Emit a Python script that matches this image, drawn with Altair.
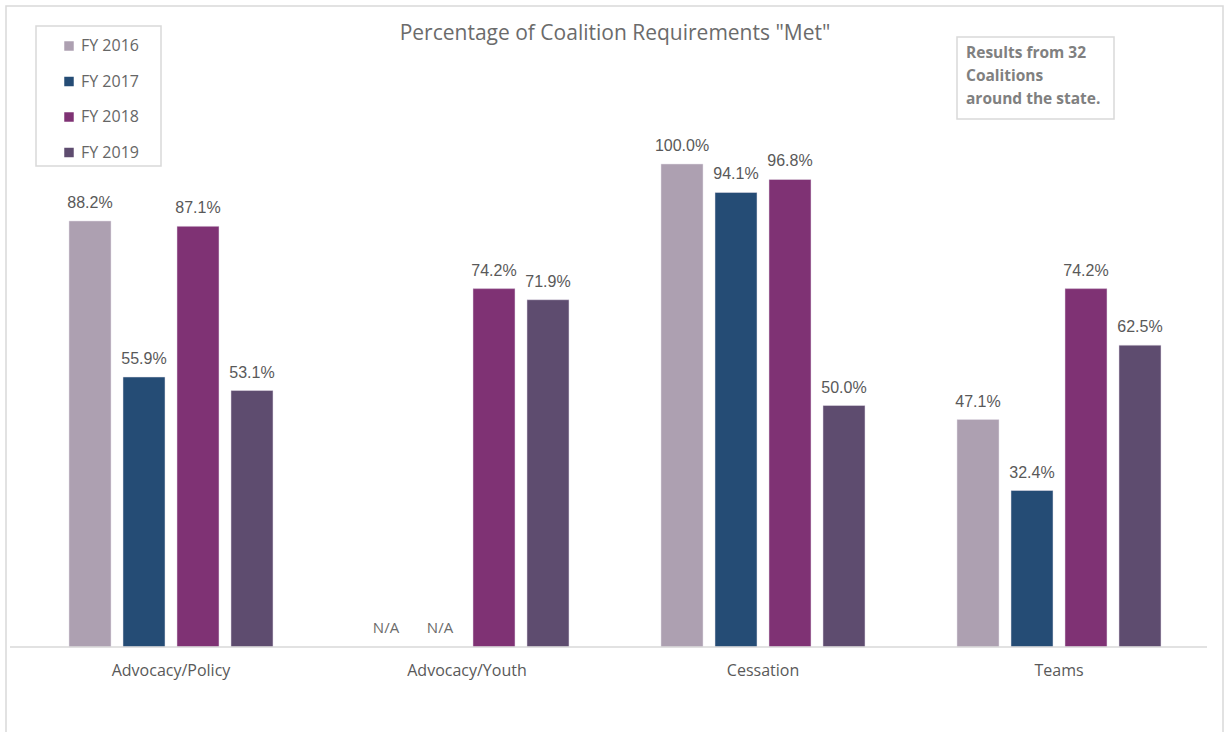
import altair as alt
import pandas as pd

categories = ["Advocacy/Policy", "Advocacy/Youth", "Cessation", "Teams"]
years = ["FY 2016", "FY 2017", "FY 2018", "FY 2019"]
colors = ["#ada0b1", "#254c75", "#7f3274", "#5e4c6f"]
values = {
    "FY 2016": [88.2, None, 100.0, 47.1],
    "FY 2017": [55.9, None, 94.1, 32.4],
    "FY 2018": [87.1, 74.2, 96.8, 74.2],
    "FY 2019": [53.1, 71.9, 50.0, 62.5],
}
title_text = 'Percentage of Coalition Requirements "Met"'
note_lines = ["Results from 32", "Coalitions", "around the state."]

rows = []
for y in years:
    for c, v in zip(categories, values[y]):
        rows.append({"category": c, "year": y, "value": v})
df = pd.DataFrame(rows)

W, H = 1184, 483

x_enc = alt.X("category:N", sort=categories, title=None,
              scale=alt.Scale(paddingInner=0, paddingOuter=0),
              axis=alt.Axis(domain=False, ticks=False, labelAngle=0,
                            labelFont="Open Sans", labelFontSize=16,
                            labelColor="#595959", labelPadding=15))
xo_enc = alt.XOffset("year:N", sort=years,
                     scale=alt.Scale(paddingInner=0.2222, paddingOuter=0.852))
y_scale = alt.Scale(domain=[0, 100])
color_enc = alt.Color("year:N", sort=years,
                      scale=alt.Scale(domain=years, range=colors),
                      legend=alt.Legend(title=None, orient="none",
                                        legendX=38, legendY=-126,
                                        symbolType="square", symbolSize=90,
                                        symbolStrokeWidth=0,
                                        labelFont="Open Sans", labelFontSize=16,
                                        labelColor="#666666", labelOffset=4,
                                        rowPadding=19.5, padding=0))

base = alt.Chart(df)

bars = base.transform_filter("isValid(datum.value)").mark_bar(
    stroke="#e6e0ea", strokeWidth=0.5).encode(
    x=x_enc, xOffset=xo_enc,
    y=alt.Y("value:Q", scale=y_scale, axis=None),
    color=color_enc,
)

labels = base.transform_filter("isValid(datum.value)").transform_calculate(
    label="format(datum.value, '.1f') + '%'"
).mark_text(font="Liberation Sans", fontSize=16, color="#595959",
            baseline="alphabetic", dy=-13).encode(
    x=alt.X("category:N", sort=categories),
    xOffset=alt.XOffset("year:N", sort=years),
    y=alt.Y("value:Q", scale=y_scale),
    text="label:N",
)

na = base.transform_filter("!isValid(datum.value)").transform_calculate(
    label="'N/A'"
).mark_text(font="Open Sans", fontSize=15, color="#6b6b6b",
            baseline="alphabetic", dy=-14).encode(
    x=alt.X("category:N", sort=categories),
    xOffset=alt.XOffset("year:N", sort=years),
    y=alt.datum(0),
    text="label:N",
)

one = alt.Chart(pd.DataFrame({"a": [0]}))

baseline = one.mark_rule(color="#d9d9d9", strokeWidth=1.5).encode(
    x=alt.value(-13), x2=alt.value(1184), y=alt.value(H))

frame = one.mark_rect(fill=None, stroke="#d9d9d9", strokeWidth=1.5).encode(
    x=alt.value(-17), x2=alt.value(1200), y=alt.value(-158), y2=alt.value(580))

legend_box = one.mark_rect(fill=None, stroke="#d9d9d9", strokeWidth=1.5).encode(
    x=alt.value(13), x2=alt.value(138), y=alt.value(-138), y2=alt.value(2))

note_box = one.mark_rect(fill=None, stroke="#d9d9d9", strokeWidth=1.5).encode(
    x=alt.value(934), x2=alt.value(1091), y=alt.value(-127), y2=alt.value(-45))

note = one.mark_text(font="Open Sans", fontSize=15.5, fontWeight="bold",
                     color="#808080", align="left", baseline="alphabetic",
                     lineHeight=23).encode(
    x=alt.value(943), y=alt.value(-106), text=alt.value(note_lines))

title = one.mark_text(font="Open Sans", fontSize=21, color="#6b6b6b",
                      align="center", baseline="alphabetic").encode(
    x=alt.value(592), y=alt.value(-124), text=alt.value(title_text))

chart = alt.layer(frame, legend_box, note_box, bars, baseline, labels, na,
                  note, title).properties(
    width=W, height=H,
    autosize=alt.AutoSizeParams(type="none"),
    padding={"left": 23, "top": 164, "right": 19, "bottom": 85},
    background="white",
).configure_view(stroke=None)

chart.save("out.html", embed_options={"renderer": "svg", "actions": False})
